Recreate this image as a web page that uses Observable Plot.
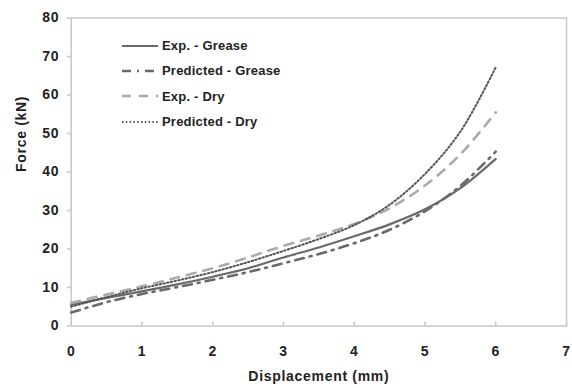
<!DOCTYPE html>
<html>
<head>
<meta charset="utf-8">
<script src="https://cdn.jsdelivr.net/npm/d3@7"></script>
<script src="https://cdn.jsdelivr.net/npm/@observablehq/plot@0.6"></script>
<style>
  html, body { margin: 0; padding: 0; background: #fff; }
  #chart { position: relative; width: 572px; height: 388px; font-family: "Liberation Sans", Arial, sans-serif; }
  #chart svg text { letter-spacing: 0.7px; }
  #legend { position: absolute; left: 122px; top: 33px; font-weight: bold; font-size: 13px; color: #222; letter-spacing: 0.2px; }
  #legend .row { display: flex; align-items: center; height: 25.3px; }
  #legend svg { margin-right: 4px; }
</style>
</head>
<body>
<div id="chart"></div>
<script>
// Displacement (mm) at which each force curve is sampled
const displacement = [0, 0.5, 1, 1.5, 2, 2.5, 3, 3.5, 4, 4.5, 5, 5.5, 6];

// Force (kN) for each series
const expGrease  = [5.5, 7.3, 9.0, 10.8, 12.8, 15.0, 17.8, 20.4, 23.3, 26.4, 30.3, 35.8, 43.4];
const predGrease = [3.5, 6.2, 8.3, 10.1, 12.0, 14.0, 16.3, 18.7, 21.5, 25.0, 29.8, 36.4, 45.3];
const expDry     = [6.0, 8.2, 10.3, 12.6, 15.0, 17.8, 20.8, 23.5, 26.5, 30.6, 36.5, 44.6, 55.5];
const predDry    = [5.0, 7.5, 9.8, 11.8, 14.0, 16.6, 19.5, 22.6, 26.2, 31.5, 39.5, 50.5, 67.2];

const seriesNames = ["Exp. - Grease", "Predicted - Grease", "Exp. - Dry", "Predicted - Dry"];
const seriesValues = [expGrease, predGrease, expDry, predDry];

const xTicks = [0, 1, 2, 3, 4, 5, 6, 7];
const yTicks = [0, 10, 20, 30, 40, 50, 60, 70, 80];

// Line styles per series
const styles = {
  "Exp. - Grease":      {stroke: "#6a6a6a", strokeWidth: 2.2, dash: null},
  "Predicted - Grease": {stroke: "#6a6a6a", strokeWidth: 2.6, dash: "9,6,2,6"},
  "Exp. - Dry":         {stroke: "#ababab", strokeWidth: 2.6, dash: "9,8"},
  "Predicted - Dry":    {stroke: "#555555", strokeWidth: 2.0, dash: "1.5,2.3"}
};

const rows = seriesNames.flatMap((name, i) =>
  displacement.map((d, j) => ({series: name, x: d, y: seriesValues[i][j]})));

const lines = seriesNames.map(name => Plot.line(rows.filter(r => r.series === name), {
  x: "x", y: "y",
  curve: "catmull-rom",
  stroke: styles[name].stroke,
  strokeWidth: styles[name].strokeWidth,
  strokeDasharray: styles[name].dash
}));

const chart = Plot.plot({
  width: 572,
  height: 388,
  marginLeft: 70.7,
  marginRight: 6,
  marginTop: 17.5,
  marginBottom: 62.5,
  style: {fontFamily: "'Liberation Sans', Arial, sans-serif", background: "#fff"},
  x: {domain: [0, 7]},
  y: {domain: [0, 80]},
  marks: [
    Plot.frame({stroke: "#c8c8c8", strokeWidth: 1.5}),
    Plot.axisY({ticks: yTicks, tickSize: 4, tickPadding: 8, stroke: "#c8c8c8", strokeWidth: 1.5,
                fill: "#222", fontSize: 14, fontWeight: "bold", label: null}),
    Plot.axisX({ticks: xTicks, tickFormat: "d", tickSize: -4, tickPadding: 24, stroke: "#c8c8c8", strokeWidth: 1.5,
                fill: "#222", fontSize: 14, fontWeight: "bold", label: null}),
    Plot.text(["Displacement (mm)"], {frameAnchor: "bottom", dy: 55, fontSize: 14, fontWeight: "bold", fill: "#222"}),
    Plot.text(["Force (kN)"], {frameAnchor: "left", dx: -50, rotate: -90, fontSize: 14, fontWeight: "bold", fill: "#222"}),
    ...lines
  ]
});

const host = document.getElementById("chart");
host.appendChild(chart);

// Legend drawn over the upper-left of the plot area
const legend = document.createElement("div");
legend.id = "legend";
for (const name of seriesNames) {
  const s = styles[name];
  const row = document.createElement("div");
  row.className = "row";
  row.innerHTML = `<svg width="36" height="6"><line x1="0" x2="36" y1="3" y2="3" stroke="${s.stroke}" stroke-width="${s.strokeWidth}" ${s.dash ? `stroke-dasharray="${s.dash}"` : ""}/></svg><span>${name}</span>`;
  legend.appendChild(row);
}
host.appendChild(legend);
</script>
</body>
</html>
